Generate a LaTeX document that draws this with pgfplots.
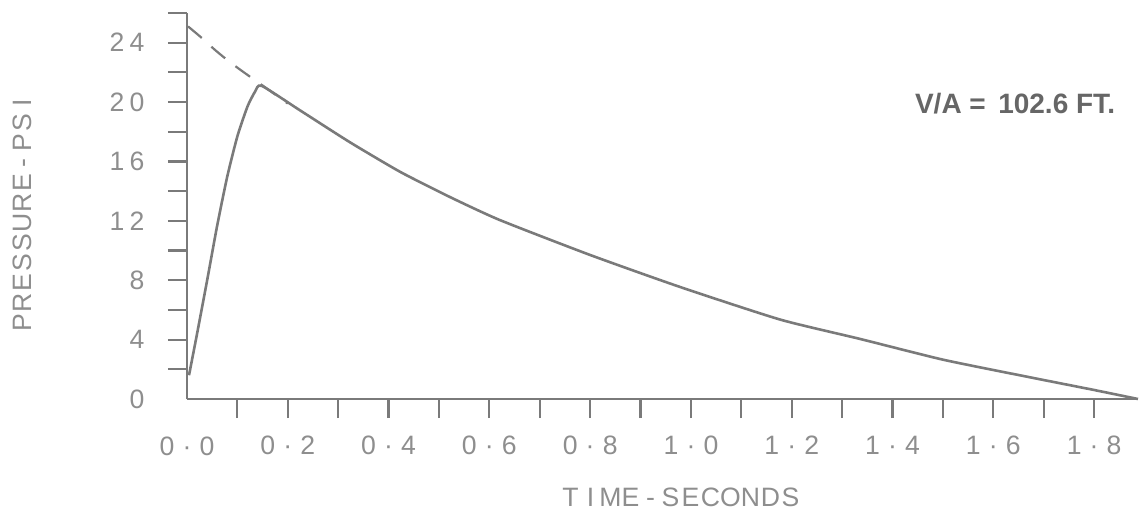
\documentclass[border=0pt]{standalone}
\usepackage{pgfplots}
\pgfplotsset{compat=1.18}
\usepackage{fontspec}
\setmainfont{Liberation Sans}
\definecolor{ink}{HTML}{7A7A7A}
\definecolor{txt}{HTML}{8E8E8E}
\definecolor{vatxt}{HTML}{666666}
\def\spaced#1{\spacedi#1\relax}
\def\spacedi#1{\ifx#1\relax\else\makebox[10pt]{#1}\expandafter\spacedi\fi}
\begin{document}
\begin{tikzpicture}
\path[use as bounding box] (-93.5pt,-58pt) rectangle (477pt,199.5pt);
\begin{axis}[
  scale only axis,
  width=475.5pt, height=193pt,
  xmin=0, xmax=1.887, ymin=0, ymax=26,
  axis lines=left,
  axis line style={-, ink, line width=1.1pt},
  tick align=outside,
  major tick length=9.5pt, minor tick length=9.5pt,
  tick style={ink, line width=1.1pt},
  xtick={0.2,0.4,0.6,0.8,1.0,1.2,1.4,1.6,1.8},
  minor xtick={0.1,0.3,0.5,0.7,0.9,1.1,1.3,1.5,1.7},
  xticklabels={\spaced{0·2},\spaced{0·4},\spaced{0·6},\spaced{0·8},\spaced{1·0},\spaced{1·2},\spaced{1·4},\spaced{1·6},\spaced{1·8}},
  extra x ticks={0},
  extra x tick labels={\spaced{0·0}},
  extra x tick style={major tick length=0pt, xticklabel style={yshift=-10pt}},
  ytick={4,8,12,16,20,24},
  minor ytick={2,6,10,14,18,22,26},
  yticklabels={\spaced{4},\spaced{8},\spaced{12},\spaced{16},\spaced{20},\spaced{24}},
  extra y ticks={0},
  extra y tick labels={\spaced{0}},
  extra y tick style={major tick length=0pt, yticklabel style={xshift=-9.5pt}},
  tick label style={font=\fontsize{13.3}{14}\selectfont, color=txt},
  xticklabel style={yshift=-5.5pt},
  yticklabel style={xshift=-7pt},
  label style={font=\fontsize{13.3}{14}\selectfont, color=txt},
  xlabel={\spaced{TIME-SECONDS}},
  ylabel={\spaced{PRESSURE-PSI}},
  xlabel style={at={(axis description cs:0.519,-0.254)}, anchor=center},
  ylabel style={at={(axis description cs:-0.1735,0.482)}, anchor=center},
  clip=false,
]
\addplot[ink, line width=1.3pt, smooth, tension=0.35] coordinates {
(0.004,1.6) (0.02,4.4) (0.04,8.0) (0.06,11.7) (0.08,15.0) (0.10,17.7)
(0.12,19.7) (0.135,20.7) (0.148,21.1) (0.224,19.45) (0.323,17.3)
(0.423,15.3) (0.522,13.6) (0.621,12.05) (0.8,9.7) (0.978,7.55) (1.177,5.35)
(1.335,4.05) (1.5,2.65) (1.667,1.5) (1.798,0.62) (1.887,0)
};
\addplot[ink, line width=1.1pt, smooth, dash pattern=on 9pt off 6.5pt] coordinates {
(0.002,25.1) (0.03,24.3) (0.056,23.5) (0.085,22.7) (0.113,22.0) (0.159,20.9) (0.2,19.9)
};
\node[font=\bfseries\fontsize{14}{16}\selectfont, color=vatxt] at (axis cs:1.643,19.9) {V/A = \,102.6 FT.};
\end{axis}
\end{tikzpicture}
\end{document}
